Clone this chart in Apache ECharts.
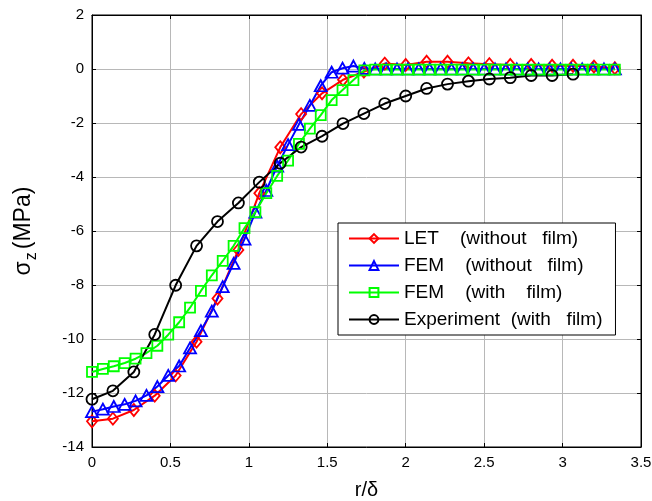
<!DOCTYPE html>
<html>
<head>
<meta charset="utf-8">
<script src="https://cdn.jsdelivr.net/npm/echarts@6/dist/echarts.min.js"></script>
<style>
  html, body { margin: 0; padding: 0; background: #fff; }
  #chart { width: 652px; height: 501px; }
</style>
</head>
<body>
<div id="chart"></div>
<script>
// r/δ step for the coarse series (LET, experiment) and the fine FEM series
const coarseStep = 0.13333;
const fineStep = 0.069444;

// LET (without film), 26 points
const letValues = [-13.05, -12.95, -12.63, -12.1, -11.35, -10.1, -8.5, -6.7, -4.6, -2.9,
  -1.67, -0.9, -0.4, -0.1, 0.2, 0.15, 0.27, 0.27, 0.21, 0.18, 0.15, 0.15, 0.12, 0.12, 0.09, 0.03];

// FEM (without film), 49 points
const femNoFilm = [-12.69, -12.6, -12.5, -12.42, -12.29, -12.09, -11.76, -11.35, -11.0, -10.33,
  -9.69, -8.97, -8.06, -7.2, -6.3, -5.3, -4.5, -3.6, -2.8, -2.05,
  -1.35, -0.62, -0.12, 0.03, 0.11, 0.02, 0.0, 0.0, 0.0, 0.0,
  0.0, 0.0, 0.0, 0.0, 0.0, 0.0, 0.0, 0.0, 0.0, 0.0,
  0.0, 0.0, 0.0, 0.0, 0.0, 0.0, 0.0, 0.0, 0.0];

// FEM (with film), 49 points
const femFilm = [-11.22, -11.11, -11.01, -10.89, -10.73, -10.52, -10.25, -9.84, -9.38, -8.84,
  -8.22, -7.64, -7.11, -6.55, -5.89, -5.3, -4.6, -3.96, -3.39, -2.77,
  -2.21, -1.71, -1.15, -0.78, -0.41, -0.05, -0.02, -0.02, -0.02, -0.02,
  -0.02, -0.02, -0.02, -0.02, -0.02, -0.02, -0.02, -0.02, -0.02, -0.02,
  -0.02, -0.02, -0.02, -0.02, -0.02, -0.02, -0.02, -0.02, -0.02];

// Experiment (with film), 24 points
const experiment = [-12.23, -11.92, -11.22, -9.83, -8.01, -6.55, -5.65, -4.96, -4.19, -3.49,
  -2.89, -2.49, -2.02, -1.65, -1.28, -1.0, -0.72, -0.56, -0.45, -0.37,
  -0.32, -0.24, -0.24, -0.19];

const seriesNames = [
  "LET    (without   film)",
  "FEM    (without   film)",
  "FEM    (with    film)",
  "Experiment  (with   film)",
];

function pairs(values, step) {
  return values.map((v, i) => [+(i * step).toFixed(4), v]);
}

const FONT = "Liberation Sans, Arial, sans-serif";

function makeSeries(name, values, step, color, symbol, size) {
  return {
    name: name,
    type: "line",
    data: pairs(values, step),
    color: color,
    symbol: symbol,
    symbolSize: size,
    showAllSymbol: true,
    lineStyle: { color: color, width: 2 },
    itemStyle: { color: "transparent", borderColor: color, borderWidth: 1.8 },
    emphasis: { disabled: true },
    animation: false,
  };
}

const chart = echarts.init(document.getElementById("chart"), null, { renderer: "canvas" });

const tickStyle = { show: true, inside: true, length: 4, lineStyle: { color: "#000" } };
const blackLine = { show: true, onZero: false, lineStyle: { color: "#000" } };

chart.setOption({
  backgroundColor: "#fff",
  textStyle: { fontFamily: FONT },
  grid: {
    left: 92, right: 11, top: 15, bottom: 54,
    outerBoundsMode: "none",
    containLabel: false,
    show: true, borderColor: "#000", borderWidth: 1, backgroundColor: "#fff",
  },
  legend: {
    orient: "vertical",
    left: 338,
    top: 223,
    backgroundColor: "#fff",
    borderColor: "#000",
    borderWidth: 1,
    borderRadius: 0,
    padding: [6, 13, 6, 10],
    itemGap: 8,
    itemWidth: 50,
    itemHeight: 11,
    textStyle: { fontSize: 19, color: "#000", fontFamily: FONT },
    data: seriesNames,
  },
  xAxis: [
    {
      type: "value",
      min: 0, max: 3.5, interval: 0.5,
      name: "r/δ",
      nameLocation: "middle",
      nameGap: 33,
      nameTextStyle: { fontSize: 20, color: "#000", fontFamily: FONT },
      axisLine: blackLine,
      axisTick: tickStyle,
      axisLabel: { fontSize: 15, color: "#000", margin: 8, fontFamily: FONT },
      splitLine: { show: true, lineStyle: { color: "#b8b8b8", width: 1 } },
    },
    {
      type: "value", position: "top",
      min: 0, max: 3.5, interval: 0.5,
      axisLine: blackLine,
      axisTick: tickStyle,
      axisLabel: { show: false },
      splitLine: { show: false },
    },
  ],
  yAxis: [
    {
      type: "value",
      min: -14, max: 2, interval: 2,
      name: "{a|σ}{b|z}{a|(MPa)}",
      nameLocation: "middle",
      nameGap: 52,
      nameTextStyle: {
        fontSize: 23, color: "#000", fontFamily: FONT,
        rich: {
          a: { fontSize: 23, color: "#000", fontFamily: FONT },
          b: { fontSize: 16, color: "#000", fontFamily: FONT, padding: [17, 3, 0, 1] },
        },
      },
      axisLine: blackLine,
      axisTick: tickStyle,
      axisLabel: { fontSize: 15, color: "#000", margin: 8, fontFamily: FONT },
      splitLine: { show: true, lineStyle: { color: "#b8b8b8", width: 1 } },
    },
    {
      type: "value", position: "right",
      min: -14, max: 2, interval: 2,
      axisLine: blackLine,
      axisTick: tickStyle,
      axisLabel: { show: false },
      splitLine: { show: false },
    },
  ],
  series: [
    makeSeries(seriesNames[0], letValues, coarseStep, "#ff0000", "diamond", [10, 12]),
    makeSeries(seriesNames[1], femNoFilm, fineStep, "#0000ff", "triangle", [12, 11]),
    makeSeries(seriesNames[2], femFilm, fineStep, "#00ff00", "rect", 10),
    makeSeries(seriesNames[3], experiment, coarseStep, "#000000", "circle", 11),
  ],
});
</script>
</body>
</html>
